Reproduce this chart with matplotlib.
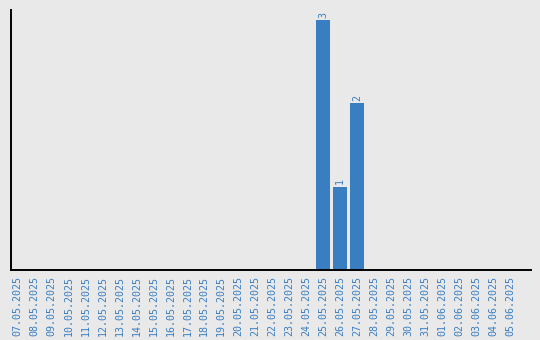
import matplotlib
matplotlib.use("Agg")
import matplotlib.pyplot as plt

dates = ["07.05.2025", "08.05.2025", "09.05.2025", "10.05.2025", "11.05.2025",
         "12.05.2025", "13.05.2025", "14.05.2025", "15.05.2025", "16.05.2025",
         "17.05.2025", "18.05.2025", "19.05.2025", "20.05.2025", "21.05.2025",
         "22.05.2025", "23.05.2025", "24.05.2025", "25.05.2025", "26.05.2025",
         "27.05.2025", "28.05.2025", "29.05.2025", "30.05.2025", "31.05.2025",
         "01.06.2025", "02.06.2025", "03.06.2025", "04.06.2025", "05.06.2025"]
counts = [0, 0, 0, 0, 0, 0, 0, 0, 0, 0, 0, 0, 0, 0, 0, 0, 0, 0, 3, 1, 2,
          0, 0, 0, 0, 0, 0, 0, 0, 0]

bg = "#e9e9e9"
blue = "#3a7ec2"

fig = plt.figure(figsize=(5.4, 3.4), dpi=100, facecolor=bg)
ax = fig.add_axes([10.5 / 540, 70 / 340, 520.5 / 540, 260 / 340], facecolor=bg)

x = list(range(len(dates)))
ax.bar(x, counts, width=0.82, color=blue)
for xi, c in zip(x, counts):
    if c > 0:
        ax.text(xi, c + 0.03, str(c), rotation=90, ha="center", va="bottom",
                color=blue, fontsize=7.2, family="DejaVu Sans Mono")

ax.set_xlim(-0.41, 30.24)
ax.set_ylim(0, 3.12)
ax.set_xticks(x)
ax.set_xticklabels(dates, rotation=90, color=blue, fontsize=7.2,
                   family="DejaVu Sans Mono")
ax.tick_params(axis="x", length=0, pad=4.5)
ax.set_yticks([])
for s in ["top", "right"]:
    ax.spines[s].set_visible(False)
for s in ["left", "bottom"]:
    ax.spines[s].set_color("black")
    ax.spines[s].set_linewidth(1.4)

fig.savefig("out.png", dpi=100, facecolor=bg)
